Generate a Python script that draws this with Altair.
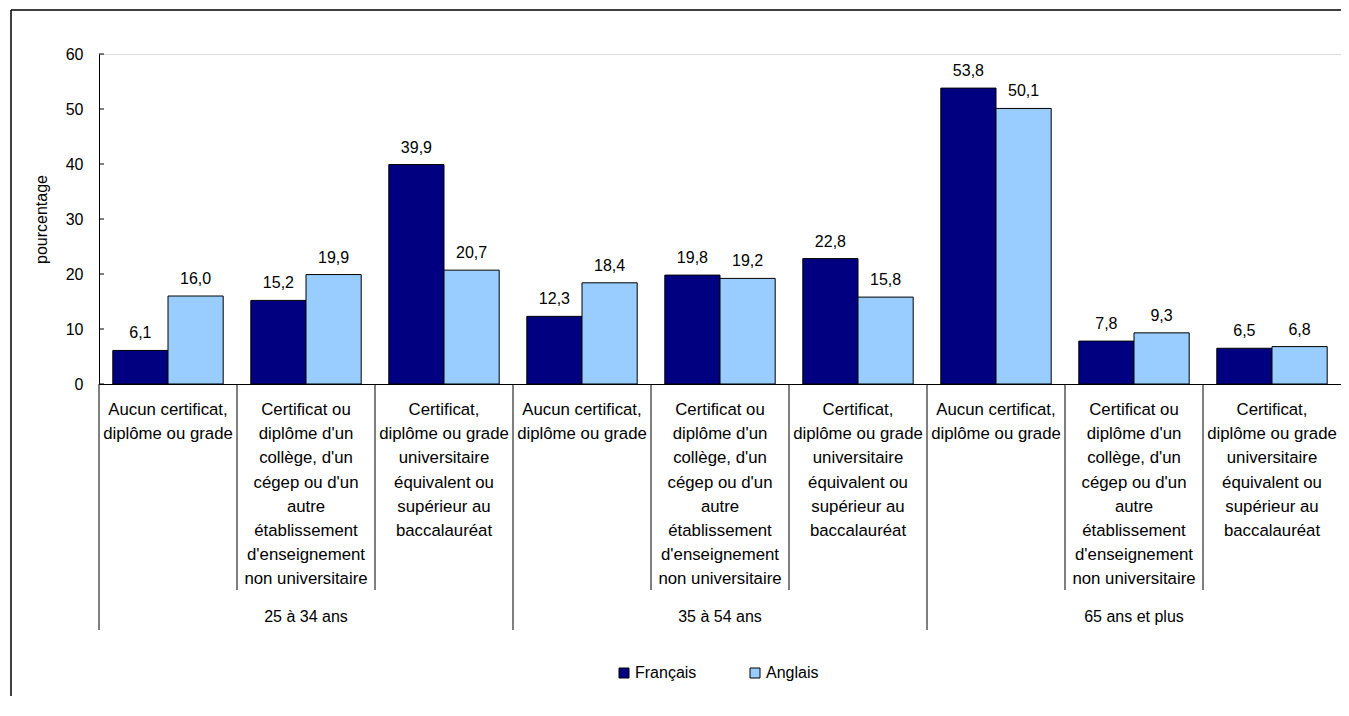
import altair as alt
import pandas as pd

age_groups = ["25 à 34 ans", "35 à 54 ans", "65 ans et plus"]
education = [
    "Aucun certificat,\ndiplôme ou grade",
    "Certificat ou\ndiplôme d'un\ncollège, d'un\ncégep ou d'un\nautre\nétablissement\nd'enseignement\nnon universitaire",
    "Certificat,\ndiplôme ou grade\nuniversitaire\néquivalent ou\nsupérieur au\nbaccalauréat",
]
series = ["Français", "Anglais"]
francais = [6.1, 15.2, 39.9, 12.3, 19.8, 22.8, 53.8, 7.8, 6.5]
anglais = [16.0, 19.9, 20.7, 18.4, 19.2, 15.8, 50.1, 9.3, 6.8]
colors = ["#000080", "#99CCFF"]
y_ticks = [0, 10, 20, 30, 40, 50, 60]

FONT = "Liberation Sans"
W, H = 1242, 330
PAD_BOTTOM = 312

keys, cat_rows = [], []
for gi, g in enumerate(age_groups):
    for ei, e in enumerate(education):
        k = f"{gi}-{ei}"
        keys.append(k)
        cat_rows.append({"key": k, "group": g, "label": e, "ei": ei})
cats = pd.DataFrame(cat_rows)

rows = []
for i, k in enumerate(keys):
    rows.append({"key": k, "serie": series[0], "value": francais[i]})
    rows.append({"key": k, "serie": series[1], "value": anglais[i]})
bars_df = pd.DataFrame(rows)

xscale = alt.Scale(domain=keys, paddingInner=0, paddingOuter=0)
xoff = alt.XOffset("serie:N", sort=series,
                   scale=alt.Scale(domain=series, paddingInner=0, paddingOuter=0.25))
yscale = alt.Scale(domain=[0, 60])

bars = alt.Chart(bars_df).mark_bar(stroke="black", strokeWidth=1).encode(
    x=alt.X("key:N", scale=xscale, sort=keys,
            axis=alt.Axis(labels=False, ticks=False, title=None, domainColor="black")),
    xOffset=xoff,
    y=alt.Y("value:Q", scale=yscale,
            axis=alt.Axis(values=y_ticks, grid=False, ticks=False, domainColor="black",
                          labelFontSize=16, labelPadding=16, labelFont=FONT, labelColor="black",
                          title="pourcentage", titleFont=FONT, titleFontSize=16,
                          titleFontWeight="normal", titleColor="black",
                          titleX=-50, titleY=165)),
    color=alt.Color("serie:N", sort=series,
                    scale=alt.Scale(domain=series, range=colors),
                    legend=alt.Legend(title=None, orient="none", direction="horizontal",
                                      legendX=517, legendY=611, symbolType="square",
                                      symbolSize=100, symbolStrokeColor="black",
                                      symbolStrokeWidth=1, labelFont=FONT, labelFontSize=16,
                                      labelColor="black", columnPadding=50, labelOffset=3,
                                      padding=0)),
)

values = alt.Chart(bars_df).transform_calculate(
    lbl="replace(format(datum.value, '.1f'), '.', ',')"
).mark_text(font=FONT, fontSize=16, color="black", baseline="alphabetic", dy=-12).encode(
    x=alt.X("key:N", scale=xscale, sort=keys),
    xOffset=xoff,
    y=alt.Y("value:Q", scale=yscale),
    text="lbl:N",
)

ticks_df = pd.DataFrame({"v": y_ticks})
yt = alt.Chart(ticks_df).mark_rule(color="black").encode(
    y=alt.Y("v:Q", scale=yscale), x=alt.value(0), x2=alt.value(5)
)

sep_cat = alt.Chart(cats[cats.ei != 0]).mark_rule(color="black").encode(
    x=alt.X("key:N", scale=xscale, sort=keys, bandPosition=0),
    y=alt.value(H), y2=alt.value(536),
)
sep_grp = alt.Chart(cats[cats.ei == 0]).mark_rule(color="black").encode(
    x=alt.X("key:N", scale=xscale, sort=keys, bandPosition=0),
    y=alt.value(H), y2=alt.value(576),
)

cat_text = alt.Chart(cats).mark_text(
    font=FONT, fontSize=16.8, color="black", baseline="alphabetic",
    lineBreak="\n", lineHeight=24.2, align="center"
).encode(
    x=alt.X("key:N", scale=xscale, sort=keys),
    y=alt.value(361),
    text="label:N",
)

grp_text = alt.Chart(cats[cats.ei == 1]).mark_text(
    font=FONT, fontSize=16, color="black", baseline="alphabetic", align="center"
).encode(
    x=alt.X("key:N", scale=xscale, sort=keys),
    y=alt.value(568),
    text="group:N",
)

frame = ticks_df.head(1)
border_top = alt.Chart(frame).mark_rule(color="black", strokeWidth=1.5).encode(
    x=alt.value(-88), x2=alt.value(W), y=alt.value(-44)
)
border_left = alt.Chart(frame).mark_rule(color="black", strokeWidth=1.5).encode(
    x=alt.value(-88), y=alt.value(-44), y2=alt.value(H + PAD_BOTTOM)
)

chart = alt.layer(border_top, border_left, bars, values, yt, sep_cat, sep_grp,
                  cat_text, grp_text).properties(
    width=W, height=H,
    autosize=alt.AutoSizeParams(type="none"),
    padding={"left": 91, "top": 46, "right": 0, "bottom": PAD_BOTTOM},
).configure_view(stroke=None).configure(font=FONT)

chart.save("out.html", embed_options={"renderer": "svg", "actions": False})
